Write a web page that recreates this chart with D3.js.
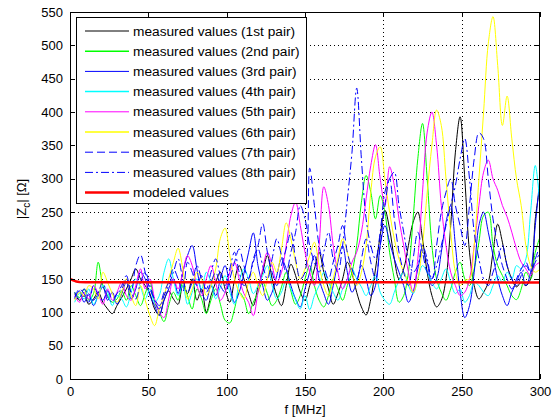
<!DOCTYPE html>
<html><head><meta charset="utf-8">
<script src="https://cdn.jsdelivr.net/npm/d3@7"></script>
<style>body{margin:0;background:#fff}svg{display:block}text{font-family:"Liberation Sans",Arial,sans-serif;fill:#000}</style>
</head><body><svg id="c" width="556" height="420"></svg>
<script>
// frequency grid (MHz) for measured data
const freq = d3.range(3, 301, 3);
const xTicks = [0, 50, 100, 150, 200, 250, 300];
const yTicks = [0, 50, 100, 150, 200, 250, 300, 350, 400, 450, 500, 550];
const seriesNames = ["measured values (1st pair)","measured values (2nd pair)","measured values (3rd pair)","measured values (4th pair)","measured values (5th pair)","measured values (6th pair)","measured values (7th pair)","measured values (8th pair)"];

const pair1 = [128,118,125,112,120,130,115,105,98,110, 122,135,150,165,150,140,128,105,96,118, 132,120,112,140,128,150,118,135,100,125, 145,160,135,115,148,170,150,128,110,138, 160,185,150,125,110,140,172,155,130,118, 140,165,190,160,135,112,128,150,175,158, 130,108,96,120,165,215,253,225,180,150, 165,200,235,250,210,160,125,108,118,150, 230,340,393,300,190,140,120,130,145,190, 232,205,170,150,138,145,140,150,240,290];
const pair2 = [130,122,135,118,128,175,140,125,115,120, 132,118,140,125,110,128,145,115,100,86, 110,130,118,145,125,105,135,120,98,118, 135,112,88,84,105,130,120,98,115,130, 145,128,110,118,138,160,132,112,125,150, 170,140,118,108,125,150,135,118,140,160, 200,265,305,280,240,275,250,190,150,115, 125,160,240,330,383,300,200,150,130,118, 135,160,175,150,140,165,205,245,250,200, 170,155,140,125,119,135,160,150,190,213];
const pair3 = [120,132,115,128,110,125,138,118,130,112, 128,145,120,135,160,150,125,110,95,118, 135,150,128,160,185,200,165,130,118,140, 125,150,170,140,115,130,158,190,219,170, 140,118,130,155,180,165,140,120,108,135, 160,185,150,128,112,140,175,200,160,130, 145,170,150,125,140,200,230,205,180,160, 140,115,130,165,190,175,140,150,190,235, 260,200,130,92,110,160,230,250,220,185, 150,125,110,130,145,160,140,160,230,303];
const pair4 = [115,128,120,135,112,125,140,130,110,125, 120,108,130,150,138,120,135,115,125,160, 180,150,125,140,112,130,150,135,160,145, 120,138,155,130,112,145,165,150,128,140, 155,170,140,120,130,148,135,118,105,125, 104,125,140,160,145,130,118,135,150,165, 150,138,125,140,155,130,118,112,130,148, 160,140,128,150,170,160,145,135,150,165, 145,128,135,115,125,145,140,130,125,140, 155,145,160,150,170,165,180,250,320,260];
const pair5 = [125,115,130,120,140,128,112,135,118,130, 145,125,118,140,165,135,150,120,100,92, 120,150,135,160,185,170,140,125,150,170, 145,118,130,160,175,150,128,115,95,130, 165,190,170,145,160,200,245,265,230,190, 160,140,200,288,260,200,160,135,150,175, 190,220,270,320,351,300,260,318,290,240, 200,160,130,180,280,370,400,350,260,200, 160,140,125,130,150,200,260,310,328,300, 283,260,243,220,195,175,165,155,170,175];
const pair6 = [118,130,125,140,135,120,160,145,128,115, 130,150,125,110,140,118,95,80,105,125, 150,175,196,165,120,135,160,150,125,140, 165,211,226,185,150,130,120,145,160,140, 125,150,175,160,195,234,210,175,150,165, 185,205,170,140,125,150,180,210,190,160, 140,160,200,280,333,348,300,250,210,180, 160,145,130,150,200,280,350,403,380,300, 220,160,140,148,150,200,300,400,503,543, 470,380,424,360,300,260,200,170,160,165];
const pair7 = [122,135,128,115,140,125,118,132,120,128, 140,155,130,170,186,160,135,120,110,130, 145,165,150,130,175,160,140,155,130,145, 160,140,130,150,175,195,170,150,180,200, 233,190,160,140,170,195,220,180,150,160, 316,260,200,170,150,175,200,230,190,165, 150,180,210,175,150,200,260,300,240,190, 160,140,180,220,190,160,150,200,250,280, 300,260,230,200,260,330,369,360,300,240, 200,170,150,135,150,165,175,160,180,200];
const pair8 = [130,120,135,125,118,130,145,122,115,128, 135,150,130,120,145,160,140,118,105,125, 140,160,180,150,130,145,170,150,135,160, 180,155,140,165,190,160,140,150,175,195, 170,150,180,210,185,160,190,220,260,240, 200,175,160,190,220,180,160,200,268,340, 436,330,240,200,180,220,280,300,310,260, 220,180,160,170,200,180,150,170,200,230, 260,290,330,360,300,220,180,150,140,160, 180,200,170,150,140,155,170,160,175,190];
const modeledF = [0,1,2,3,4,6,10,20,50,100,150,200,250,300];
const modeledV = [150,149,148,147,146,145.5,145,145,145,145,145,145,145,144.5];

const measured = [pair1,pair2,pair3,pair4,pair5,pair6,pair7,pair8];
const colors = ["#000000","#00ff00","#0000ff","#00ffff","#ff00ff","#ffff00","#0000ff","#0000ff"];
const dashes = [null,null,null,null,null,null,"8,4","8,3,2,3"];

const svg = d3.select("#c");
const L = 70, R = 540, T = 12, B = 379;
const x = d3.scaleLinear().domain([0,300]).range([L,R]);
const y = d3.scaleLinear().domain([0,550]).range([B,T]);

// grid
const g = svg.append("g");
g.selectAll(".gx").data(xTicks.slice(1,-1)).join("line")
  .attr("x1",d=>Math.round(x(d))+0.5).attr("x2",d=>Math.round(x(d))+0.5).attr("y1",T).attr("y2",B)
  .attr("stroke","#000").attr("stroke-dasharray","1,3");
g.selectAll(".gy").data(yTicks.slice(1,-1)).join("line")
  .attr("y1",d=>Math.round(y(d))+0.5).attr("y2",d=>Math.round(y(d))+0.5).attr("x1",L).attr("x2",R)
  .attr("stroke","#000").attr("stroke-dasharray","1,3");

svg.append("clipPath").attr("id","clip").append("rect").attr("x",L).attr("y",T).attr("width",R-L).attr("height",B-T);

const line = d3.line().x((d,i)=>x(freq[i])).y(d=>y(d)).curve(d3.curveCatmullRom.alpha(0.5));
const dg = svg.append("g").attr("clip-path","url(#clip)");
measured.forEach((s,k)=>{
  dg.append("path").datum(s).attr("d",line).attr("fill","none")
    .attr("stroke",colors[k]).attr("stroke-width",1)
    .attr("stroke-dasharray",dashes[k]);
});
const mline = d3.line().x((d,i)=>x(modeledF[i])).y(d=>y(d));
dg.append("path").datum(modeledV).attr("d",mline).attr("fill","none").attr("stroke","#ff0000").attr("stroke-width",2.5);

// axes box
svg.append("rect").attr("x",L+0.5).attr("y",T+0.5).attr("width",R-L-1).attr("height",B-T).attr("fill","none").attr("stroke","#000");
const ax = svg.append("g").attr("transform",`translate(0,${B})`).call(d3.axisBottom(x).tickValues(xTicks).tickSize(0).tickPadding(8));
ax.select(".domain").remove();
ax.selectAll("text").attr("font-size",13).attr("font-family","Liberation Sans, Arial, sans-serif");
const ay = svg.append("g").attr("transform",`translate(${L},0)`).call(d3.axisLeft(y).tickValues(yTicks).tickSize(0).tickPadding(7));
ay.select(".domain").remove();
ay.selectAll("text").attr("font-size",13).attr("font-family","Liberation Sans, Arial, sans-serif");
// inward ticks on all sides
const tk = svg.append("g").attr("stroke","#000");
xTicks.forEach(v=>{const px=Math.round(x(v))+0.5;
  tk.append("line").attr("x1",px).attr("x2",px).attr("y1",B).attr("y2",B-5);
  tk.append("line").attr("x1",px).attr("x2",px).attr("y1",T).attr("y2",T+5);});
yTicks.forEach(v=>{const py=Math.round(y(v))+0.5;
  tk.append("line").attr("x1",L).attr("x2",L+5).attr("y1",py).attr("y2",py);
  tk.append("line").attr("x1",R).attr("x2",R-5).attr("y1",py).attr("y2",py);});

// labels
svg.append("text").attr("x",(L+R)/2).attr("y",414).attr("text-anchor","middle").attr("font-size",13).text("f [MHz]");
const yl = svg.append("text").attr("transform",`translate(26,199) rotate(-90)`).attr("text-anchor","middle").attr("font-size",13);
yl.append("tspan").text("|Z");
yl.append("tspan").attr("font-size",10).attr("dy",4).text("c");
yl.append("tspan").attr("dy",-4).text("| [Ω]");

// legend
const lg = svg.append("g");
lg.append("rect").attr("x",76.5).attr("y",17.5).attr("width",230).attr("height",186).attr("fill","#fff").attr("stroke","#000");
const names = seriesNames.concat(["modeled values"]);
const lcol = colors.concat(["#ff0000"]);
const ldash = dashes.concat([null]);
names.forEach((n,i)=>{
  const cy = 31 + i*20.2;
  lg.append("line").attr("x1",85).attr("x2",129).attr("y1",cy).attr("y2",cy)
    .attr("stroke",lcol[i]).attr("stroke-width",i===8?2.5:(i===1||i===3||i===5?1.5:1)).attr("stroke-dasharray",ldash[i]);
  lg.append("text").attr("x",133).attr("y",cy+4.5).attr("font-size",13.7).text(n);
});
</script></body></html>
